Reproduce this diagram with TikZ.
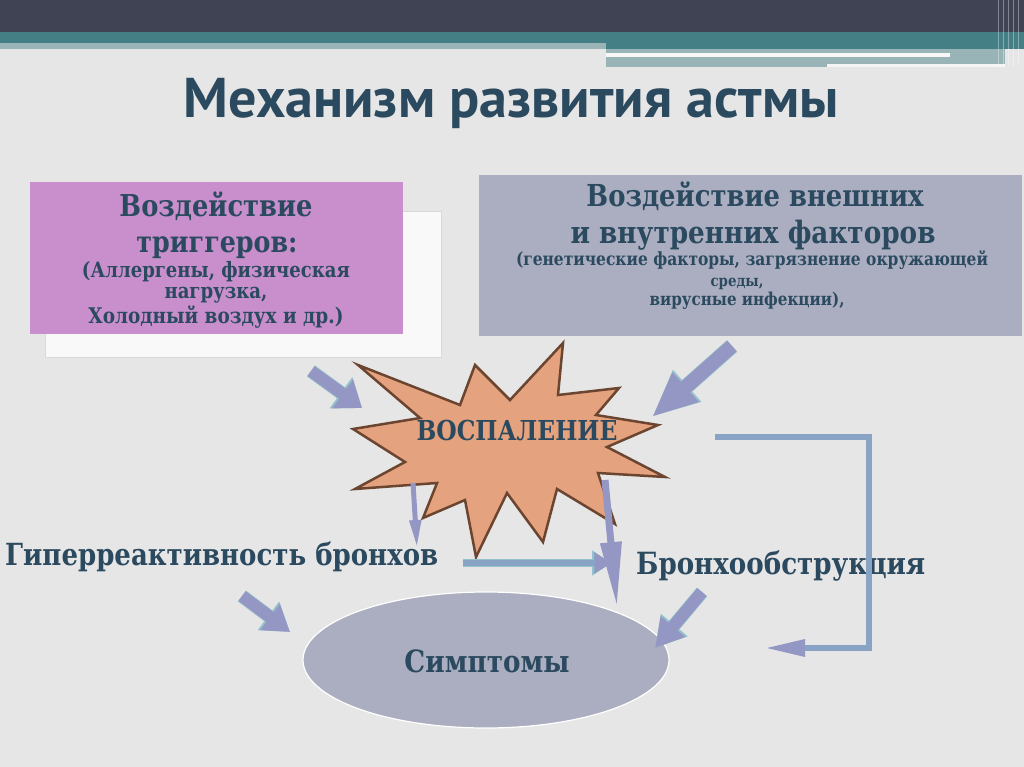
\documentclass[tikz,border=0pt]{standalone}
\usepackage{fontspec}
\usepackage{graphicx}
\setmainfont{DejaVu Serif}
\newfontfamily\titlefont{PT Sans}
\usetikzlibrary{arrows.meta,calc}
\definecolor{bgc}{HTML}{E6E6E6}
\definecolor{hdr}{HTML}{404354}
\definecolor{tealc}{HTML}{447F86}
\definecolor{lteal}{HTML}{98B4B7}
\definecolor{txtc}{HTML}{2B4A5F}
\definecolor{pinkc}{HTML}{C88FCC}
\definecolor{greyc}{HTML}{ABADC0}
\definecolor{starc}{HTML}{E5A27E}
\definecolor{stard}{HTML}{6B4530}
\definecolor{arrc}{HTML}{9497C4}
\definecolor{arro}{HTML}{93C2CA}
\definecolor{brc}{HTML}{88A3C3}
\newcommand\fw[2]{\resizebox{#1pt}{!}{\scalebox{1}[1.17]{#2}}}
\newcommand\tw[2]{\resizebox{#1pt}{!}{#2}}
\begin{document}
\begin{tikzpicture}[x=1pt,y=-1pt,
  txt/.style={inner sep=0pt, anchor=base, text=txtc, font=\bfseries},
  barr/.style n args={3}{draw=arrc, line width=#1pt, -{Triangle[width=#2pt,length=#3pt]}},
  barro/.style n args={3}{draw=arro, line width=#1pt, -{Triangle[width=#2pt,length=#3pt]}}]
\fill[bgc] (0,0) rectangle (1024,767);
\useasboundingbox (0,0) rectangle (1024,767);
% header
\fill[hdr] (0,0) rectangle (1024,32);
\fill[tealc] (0,32) rectangle (1024,43);
\fill[tealc] (606,43) rectangle (1024,49);
\fill[lteal] (0,43) rectangle (606,49);
\fill[lteal] (606,49) rectangle (1005,53);
\fill[white!94!gray] (606,53) rectangle (950,57);
\fill[lteal] (950,53) rectangle (1005,57);
\fill[lteal] (606,57) rectangle (827,67);
\fill[lteal] (827,57) rectangle (1005,64);
\fill[white!92!gray] (827,64) rectangle (1005,67);
\foreach \xx in {998,1003,1008,1013,1018}
  \draw[white, opacity=0.35, line width=1pt] (\xx,0) -- (\xx,66);
% title
\node[txt, font=\titlefont\bfseries] (title) at (511,118) {\tw{655}{Механизм развития астмы}};
% trigger box
\draw[draw=black!15, fill=white!95!gray] (45,211) rectangle (441,357);
\fill[pinkc] (30,182) rectangle (403,334);
\node[txt] (p1) at (216,217) {\fw{193}{Воздействие}};
\node[txt] (p2) at (217,252) {\fw{161}{триггеров:}};
\node[txt] (p3) at (216,277) {\fw{268}{(Аллергены, физическая}};
\node[txt] (p4) at (216,298) {\fw{103}{нагрузка,}};
\node[txt] (p5) at (216,323) {\fw{255}{Холодный воздух и др.)}};
% factors box
\fill[greyc] (479,175) rectangle (1022,336);
\node[txt] (g1) at (755,207) {\fw{337}{Воздействие внешних}};
\node[txt] (g2) at (753,243) {\fw{365}{и внутренних факторов}};
\node[txt] (g3) at (752,265) {\fw{472}{(генетические факторы, загрязнение окружающей}};
\node[txt] (g4) at (737,286) {\fw{53}{среды,}};
\node[txt] (g5) at (747,305) {\fw{195}{вирусные инфекции),}};
% star
\draw[fill=starc, draw=stard, line width=2.5pt, line join=miter]
  (358,365) -- (460,405) -- (475,365) -- (510,400) -- (563,343) -- (558,395)
  -- (619,388) -- (596,415) -- (658,425) -- (607,447) -- (665,477) -- (598,473)
  -- (615,524) -- (557,489) -- (543,542) -- (507,493) -- (476,557) -- (465,500)
  -- (423,518) -- (437,483) -- (355,489) -- (405,462) -- (353,429) -- (420,418) -- cycle;
\node[txt] (infl) at (517,440) {\fw{201}{ВОСПАЛЕНИЕ}};
% ellipse
\draw[fill=greyc, draw=white, line width=1.2pt] (486,660) ellipse [x radius=183, y radius=68];
\node[txt] (sym) at (487,672) {\fw{165}{Симптомы}};
% side labels
\node[txt, anchor=base west] (hyp) at (5,565) {\fw{433}{Гиперреактивность бронхов}};
\node[txt, anchor=base west] (obs) at (636,574) {\fw{289}{Бронхообструкция}};
% arrows
\coordinate (a1t) at (311,371); \coordinate (a1h) at (362,408);
\coordinate (a2t) at (732,346); \coordinate (a2h) at (652,417);
\coordinate (a3t) at (413,483); \coordinate (a3h) at (417,548);
\coordinate (a4t) at (605,480); \coordinate (a4h) at (617,607);
\coordinate (a5t) at (463,563); \coordinate (a5h) at (611,563);
\coordinate (a6t) at (242,596); \coordinate (a6h) at (290,632);
\coordinate (a7t) at (702,592); \coordinate (a7h) at (655,648);
\draw[barro={13.5}{37}{26}] (a1t) -- (a1h);
\draw[barr={12}{34}{24}] (a1t) -- (a1h);
\draw[barro={15.5}{39}{47}] (a2t) -- (a2h);
\draw[barr={14}{36}{45}] (a2t) -- (a2h);
\draw[barr={5}{11}{28}] (a3t) -- (a3h);
\draw[barr={7}{20}{65}] (a4t) -- (a4h);
\draw[barro={8.5}{24}{19}] (a5t) -- (a5h);
\draw[barr={6}{21}{17}, draw=brc] (a5t) -- (a5h);
\fill[arrc] (a5h) -- ($(a5h)+(-16,-10)$) -- ($(a5h)+(-16,10)$) -- cycle;
\draw[barro={13.5}{34}{27}] (a6t) -- (a6h);
\draw[barr={12}{31}{25}] (a6t) -- (a6h);
\draw[barro={13.5}{33}{30}] (a7t) -- (a7h);
\draw[barr={12}{30}{28}] (a7t) -- (a7h);
% feedback bracket
\coordinate (b1) at (715,437); \coordinate (b2) at (869,437);
\coordinate (b3) at (869,648); \coordinate (b5) at (803,648); \coordinate (b4) at (767,648);
\draw[brc, line width=6pt, line join=miter] (b1) -- (b2) -- (b3) -- (b5);
\fill[arrc] (b4) -- ($(b5)+(2,-9)$) -- ($(b5)+(2,9)$) -- cycle;
\end{tikzpicture}
\end{document}
